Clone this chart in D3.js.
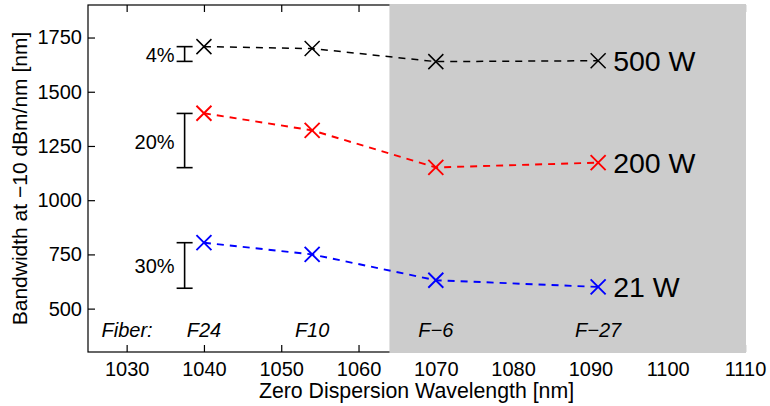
<!DOCTYPE html>
<html><head><meta charset="utf-8">
<script src="https://cdn.jsdelivr.net/npm/d3@7"></script>
<style>body{margin:0;background:#fff} text{font-family:"Liberation Sans",Arial,Helvetica,sans-serif}</style>
</head><body><svg id="c" width="770" height="406"></svg>
<script>
// ---- data ----
const wavelengths = [1040, 1054, 1070, 1091];
const fibers = ["F24", "F10", "F\u22126", "F\u221227"];
const bw500 = [1708, 1699, 1639, 1643];
const bw200 = [1401, 1322, 1151, 1173];
const bw21 = [804, 750, 631, 600];
const seriesNames = ["500 W", "200 W", "21 W"];
const seriesColors = ["#000000", "#ff0000", "#0000ff"];
const spreadLow = [1640, 1150, 594];
const spreadHigh = [1708, 1400, 804];
const spreadLabels = ["4%", "20%", "30%"];
const spreadX = 1037.5;
const xTicks = [1030, 1040, 1050, 1060, 1070, 1080, 1090, 1100, 1110];
const yTicks = [500, 750, 1000, 1250, 1500, 1750];
const shadeRange = [1064, 1110];
const xDomain = [1025, 1110];
const yDomain = [300, 1900];

// ---- layout ----
const L = 88, R = 745, T = 5, B = 352;
const svg = d3.select("#c");
const x = d3.scaleLinear(xDomain, [L, R]);
const y = d3.scaleLinear(yDomain, [B, T]);

const axStyle = g => {
  g.selectAll(".domain").remove();
  g.selectAll("line").attr("stroke", "#000").attr("stroke-width", 1.2);
  g.selectAll("text").attr("font-size", 20).attr("fill", "#000");
};

svg.append("g").attr("transform", `translate(0,${B})`)
  .call(d3.axisBottom(x).tickValues(xTicks).tickSizeInner(-7).tickSizeOuter(0).tickPadding(10).tickFormat(d3.format("d")))
  .call(axStyle);
svg.append("g").attr("transform", `translate(0,${T})`)
  .call(d3.axisTop(x).tickValues(xTicks).tickSizeInner(-7).tickSizeOuter(0).tickFormat(""))
  .call(axStyle);
svg.append("g").attr("transform", `translate(${L},0)`)
  .call(d3.axisLeft(y).tickValues(yTicks).tickSizeInner(-7).tickSizeOuter(0).tickPadding(6).tickFormat(d3.format("d")))
  .call(axStyle);
svg.append("g").attr("transform", `translate(${R},0)`)
  .call(d3.axisRight(y).tickValues(yTicks).tickSizeInner(-7).tickSizeOuter(0).tickFormat(""))
  .call(axStyle);

svg.append("rect").attr("x", L).attr("y", T).attr("width", R - L).attr("height", B - T)
  .attr("fill", "none").attr("stroke", "#000").attr("stroke-width", 1.2);

// shaded region
svg.append("rect")
  .attr("x", x(shadeRange[0])).attr("y", y(yDomain[1]) - 1)
  .attr("width", x(shadeRange[1]) - x(shadeRange[0]) + 1)
  .attr("height", y(yDomain[0]) - y(yDomain[1]) + 2)
  .attr("fill", "#cccccc");

// series
const series = [bw500, bw200, bw21];
const line = d3.line().x((d, i) => x(wavelengths[i])).y(d => y(d));
series.forEach((vals, si) => {
  const col = seriesColors[si];
  const sw = si === 0 ? 1.5 : 1.9;
  svg.append("path").datum(vals).attr("d", line)
    .attr("fill", "none").attr("stroke", col).attr("stroke-width", sw)
    .attr("stroke-dasharray", "7,6");
  const s = 7.5;
  svg.append("g").selectAll("path").data(vals).join("path")
    .attr("d", (d, i) => {
      const cx = x(wavelengths[i]), cy = y(d);
      return `M${cx - s},${cy - s}L${cx + s},${cy + s}M${cx - s},${cy + s}L${cx + s},${cy - s}`;
    })
    .attr("stroke", col).attr("stroke-width", sw).attr("fill", "none");
  const last = vals[vals.length - 1];
  svg.append("text")
    .attr("x", x(wavelengths[wavelengths.length - 1]) + 15)
    .attr("y", y(last) + 10)
    .attr("font-size", 28.5).attr("fill", "#000")
    .text(seriesNames[si]);
});

// spread bars
spreadLow.forEach((lo, i) => {
  const hi = spreadHigh[i];
  const cx = x(spreadX), cap = 8;
  const g = svg.append("g").attr("stroke", "#000").attr("stroke-width", 1.6);
  g.append("line").attr("x1", cx).attr("x2", cx).attr("y1", y(hi)).attr("y2", y(lo));
  g.append("line").attr("x1", cx - cap).attr("x2", cx + cap).attr("y1", y(hi)).attr("y2", y(hi));
  g.append("line").attr("x1", cx - cap).attr("x2", cx + cap).attr("y1", y(lo)).attr("y2", y(lo));
  svg.append("text").attr("x", cx - 10).attr("y", (y(hi) + y(lo)) / 2 + 8)
    .attr("text-anchor", "end").attr("font-size", 20).text(spreadLabels[i]);
});

// fiber labels
const fy = 336.7;
svg.append("text").attr("x", 101.5).attr("y", fy).attr("font-size", 20)
  .attr("font-style", "italic").text("Fiber:");
svg.append("g").selectAll("text").data(fibers).join("text")
  .attr("x", (d, i) => x(wavelengths[i])).attr("y", fy)
  .attr("text-anchor", "middle").attr("font-size", 20).attr("font-style", "italic")
  .text(d => d);

// axis titles
svg.append("text").attr("x", (L + R) / 2).attr("y", 398)
  .attr("text-anchor", "middle").attr("font-size", 21.3)
  .text("Zero Dispersion Wavelength [nm]");
svg.append("text").attr("transform", `translate(27,${(T + B) / 2}) rotate(-90)`)
  .attr("text-anchor", "middle").attr("font-size", 21)
  .text("Bandwidth at \u221210 dBm/nm [nm]");
</script></body></html>
